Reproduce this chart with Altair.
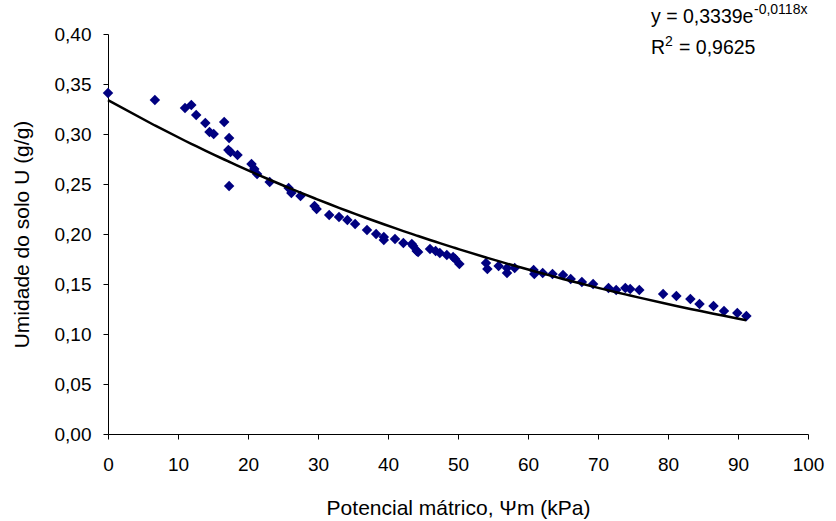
import altair as alt
import pandas as pd

# ---- data ----
pot_x = [0, 6.7, 11.0, 11.9, 12.6, 13.9, 14.5, 15.1, 16.6, 17.3, 17.2, 17.5, 18.5, 17.3,
         20.5, 20.9, 21.3, 23.1, 25.8, 26.2, 27.5, 29.5, 29.8, 31.6, 33.0, 34.2, 35.3,
         37.0, 38.3, 39.4, 39.4, 41.0, 42.2, 43.4, 43.6, 44.1, 44.3, 46.0, 46.8, 47.4,
         48.4, 49.3, 49.6, 50.2, 54.0, 54.2, 55.8, 57.0, 57.0, 58.1, 60.8, 60.9, 62.1,
         63.5, 65.0, 66.1, 67.7, 69.3, 71.5, 72.6, 73.9, 74.6, 75.9, 79.3, 81.2, 83.2,
         84.5, 86.5, 88.0, 89.9, 91.2]
umid_y = [0.341, 0.334, 0.326, 0.329, 0.319, 0.311, 0.302, 0.300, 0.312, 0.296, 0.284, 0.282,
          0.279, 0.248, 0.270, 0.265, 0.260, 0.252, 0.246, 0.241, 0.238, 0.228, 0.225, 0.219,
          0.217, 0.214, 0.210, 0.204, 0.200, 0.197, 0.194, 0.195, 0.191, 0.190, 0.188, 0.183,
          0.182, 0.185, 0.183, 0.181, 0.179, 0.177, 0.175, 0.170, 0.171, 0.165, 0.168, 0.166,
          0.161, 0.166, 0.164, 0.160, 0.161, 0.160, 0.159, 0.155, 0.152, 0.150, 0.146, 0.144,
          0.146, 0.145, 0.144, 0.140, 0.138, 0.135, 0.130, 0.128, 0.123, 0.121, 0.118]

trend_a = 0.3339
trend_b = -0.0118

x_ticks = [0, 10, 20, 30, 40, 50, 60, 70, 80, 90, 100]
y_ticks = [0.0, 0.05, 0.10, 0.15, 0.20, 0.25, 0.30, 0.35, 0.40]

eq_main = ["y = 0,3339e"]
eq_sup = ["-0,0118x"]
r2_main = ["R"]
r2_sup = ["2"]
r2_rest = ["= 0,9625"]

x_title = "Potencial mátrico, Ψm (kPa)"
y_title = "Umidade do solo U (g/g)"

FONT = "Liberation Sans"
LFS = 19   # tick labels
TFS = 21   # axis titles
EFS = 19.5  # equation text
SFS = 14   # superscripts

df = pd.DataFrame({"x": pot_x, "y": umid_y})

x_scale = alt.Scale(domain=[0, 100], nice=False)
y_scale = alt.Scale(domain=[0, 0.40], nice=False)

x_axis = alt.Axis(values=x_ticks, title=x_title, grid=False, tickSize=5,
                  labelPadding=16, labelFontSize=LFS, titleFontSize=TFS,
                  titleY=80, titleBaseline="alphabetic", labelFlush=False)
y_axis = alt.Axis(values=y_ticks, title=y_title, grid=False, tickSize=5,
                  labelPadding=12, labelFontSize=LFS, titleFontSize=TFS,
                  labelExpr="replace(format(datum.value, '.2f'), '.', ',')",
                  titleX=-86, titleY=200, titleBaseline="middle", titleAlign="center",
                  labelFlush=False)

points = alt.Chart(df).mark_point(
    shape="diamond", filled=True, size=110, color="#000080", opacity=1
).encode(
    x=alt.X("x:Q", scale=x_scale, axis=x_axis),
    y=alt.Y("y:Q", scale=y_scale, axis=y_axis),
)

trend = alt.Chart(df).transform_calculate(
    yt=f"{trend_a} * exp({trend_b} * datum.x)"
).mark_line(color="black", strokeWidth=2.5).encode(
    x=alt.X("x:Q", scale=x_scale),
    y=alt.Y("yt:Q", scale=y_scale),
    order="x:Q",
)


def txt(values, size, x, y):
    return alt.Chart(pd.DataFrame({"t": values})).mark_text(
        align="left", baseline="alphabetic", font=FONT, fontSize=size, color="black"
    ).encode(text="t:N", x=alt.value(x), y=alt.value(y))


ann = (
    txt(eq_main, EFS, 543, -11)
    + txt(eq_sup, SFS, 646, -20)
    + txt(r2_main, EFS, 543, 20)
    + txt(r2_sup, SFS, 557, 12)
    + txt(r2_rest, EFS, 571, 20)
)

chart = alt.layer(points, trend, ann).properties(
    width=700, height=400,
    padding={"left": 108, "top": 34, "right": 28, "bottom": 87},
    autosize=alt.AutoSizeParams(type="none"),
    background="white",
).configure_view(stroke=None).configure_axis(
    labelFont=FONT, titleFont=FONT, labelColor="black", titleColor="black",
    domainColor="black", tickColor="black", domainWidth=1, tickWidth=1,
    titleFontWeight="normal",
)

chart.save("out.html", embed_options={"renderer": "svg", "actions": False})
